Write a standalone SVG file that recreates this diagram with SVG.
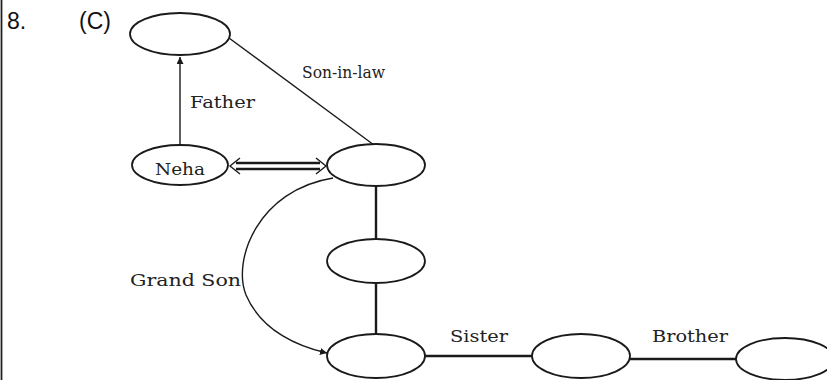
<svg xmlns="http://www.w3.org/2000/svg" width="827" height="380" viewBox="0 0 827 380">
  <style>
    .node { fill: #fff; stroke: #1a1a1a; stroke-width: 1.8; }
    .edge { fill: none; stroke: #1a1a1a; stroke-width: 1.4; }
    .thick { fill: none; stroke: #1a1a1a; stroke-width: 2.4; }
    .lbl { font-family: "DejaVu Serif", "Liberation Serif", serif; font-size: 16.5px; fill: #222; }
    .head { font-family: "Liberation Sans", Arial, sans-serif; font-size: 23px; fill: #111; }
  </style>
  <defs>
    <marker id="arrow" viewBox="0 0 10 10" refX="10" refY="5" markerWidth="7" markerHeight="7" markerUnits="userSpaceOnUse" orient="auto">
      <path d="M0,0 L10,5 L0,10 z" fill="#1a1a1a"/>
    </marker>
  </defs>

  <rect width="827" height="380" fill="#fff"/>
  <line x1="1.5" y1="0" x2="1.5" y2="380" stroke="#222" stroke-width="1.8"/>
  <text class="head" x="7" y="29">8.</text>
  <text class="head" x="79" y="29">(C)</text>

  <g id="connectors">
    <line class="edge" x1="180" y1="148" x2="180" y2="57" marker-end="url(#arrow)"/>
    <line class="edge" x1="229" y1="38" x2="374" y2="145"/>
    <!-- double-line arrow between Neha and her relative -->
    <line class="thick" x1="236" y1="163" x2="320" y2="163"/>
    <line class="thick" x1="236" y1="169" x2="320" y2="169"/>
    <path class="edge" d="M240,158 L230,166 L240,174" stroke-width="2"/>
    <path class="edge" d="M316,158 L326,166 L316,174" stroke-width="2"/>
    <line class="thick" x1="376" y1="186" x2="376" y2="239"/>
    <line class="thick" x1="376" y1="283" x2="376" y2="334"/>
    <path class="edge" d="M333,178 C258,190 232,260 246,295 C262,332 300,347 327,353" marker-end="url(#arrow)"/>
    <line class="thick" x1="425" y1="356" x2="532" y2="356"/>
    <line class="thick" x1="630" y1="359" x2="736" y2="359"/>
  </g>

  <g id="top"><ellipse class="node" cx="180" cy="34" rx="50" ry="21"/></g>
  <g id="neha">
    <ellipse class="node" cx="180" cy="165" rx="48" ry="20"/>
    <text class="lbl" x="180" y="175" text-anchor="middle" textLength="50" lengthAdjust="spacingAndGlyphs">Neha</text>
  </g>
  <g id="husband"><ellipse class="node" cx="376" cy="165" rx="49" ry="21"/></g>
  <g id="middle"><ellipse class="node" cx="376" cy="261" rx="49" ry="22"/></g>
  <g id="bottom"><ellipse class="node" cx="376" cy="356" rx="49" ry="22"/></g>
  <g id="sister"><ellipse class="node" cx="581" cy="356" rx="49" ry="22"/></g>
  <g id="brother"><ellipse class="node" cx="785" cy="359" rx="49" ry="21"/></g>

  <g id="labels">
    <text class="lbl" x="190" y="108" textLength="65" lengthAdjust="spacingAndGlyphs">Father</text>
    <text class="lbl" x="302" y="78" textLength="83" lengthAdjust="spacingAndGlyphs">Son-in-law</text>
    <text class="lbl" x="130" y="286" textLength="111" lengthAdjust="spacingAndGlyphs">Grand Son</text>
    <text class="lbl" x="450" y="342" textLength="58" lengthAdjust="spacingAndGlyphs">Sister</text>
    <text class="lbl" x="652" y="342" textLength="76" lengthAdjust="spacingAndGlyphs">Brother</text>
  </g>
</svg>
